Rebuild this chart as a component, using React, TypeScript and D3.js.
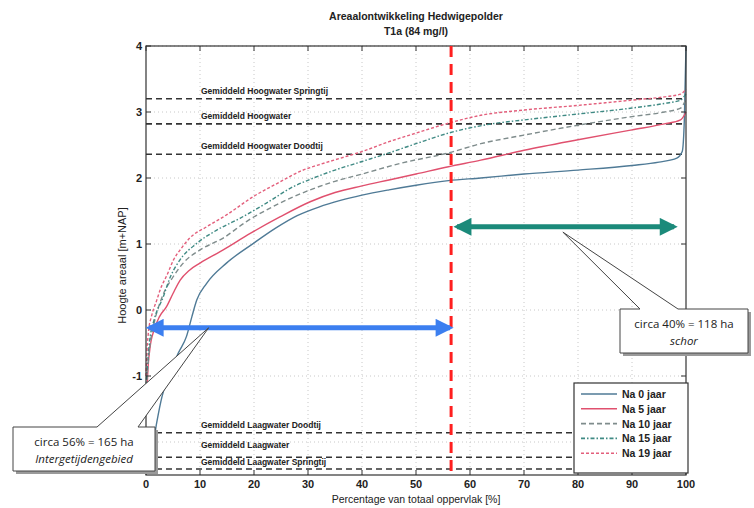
import * as d3 from "d3";
import { useEffect, useRef } from "react";

// percentage of total area vs bed level (m+NAP)
const na0X = [0.2, 1, 2, 3, 4, 5, 6, 7.5, 8.5, 9.4, 11.2, 14.9, 19.9, 24, 28, 32, 36, 40, 45, 50, 56, 62, 70, 80, 90, 95, 98.3, 99.3, 99.7, 100];
const na0Y = [-2.45, -2.2, -1.7, -1.3, -1.05, -0.85, -0.65, -0.4, -0.1, 0.15, 0.4, 0.71, 1.01, 1.24, 1.43, 1.56, 1.66, 1.74, 1.82, 1.89, 1.96, 2.0, 2.06, 2.12, 2.19, 2.24, 2.3, 2.4, 2.9, 4.0];

const na5X = [0.1, 0.3, 0.7, 1.5, 2.5, 3.8, 5, 6.3, 8, 10, 14.3, 19.3, 24.8, 30.4, 35, 40, 45, 50, 56, 62, 70, 80, 90, 96, 99, 100];
const na5Y = [-1.5, -1.0, -0.6, -0.3, -0.1, 0.05, 0.25, 0.45, 0.6, 0.71, 0.91, 1.16, 1.41, 1.64, 1.78, 1.88, 1.97, 2.06, 2.17, 2.27, 2.42, 2.58, 2.73, 2.82, 2.88, 3.0];

const na10X = [0, 0.3, 0.8, 1.5, 3, 5, 7, 10, 14.3, 18.6, 23.6, 30.4, 35, 40, 47, 56, 62, 70, 80, 90, 96, 99, 100];
const na10Y = [-1.3, -0.9, -0.5, -0.2, 0.2, 0.5, 0.72, 0.91, 1.09, 1.34, 1.57, 1.82, 1.95, 2.06, 2.22, 2.38, 2.52, 2.65, 2.8, 2.93, 3.0, 3.06, 3.2];

const na15X = [0, 0.3, 0.7, 1.5, 3.2, 4.5, 6.3, 9.4, 13.1, 17.4, 22.3, 27.3, 30.4, 35, 40, 45, 50, 56, 64, 70, 80, 90, 96, 99, 100];
const na15Y = [-1.2, -0.8, -0.45, -0.15, 0.2, 0.5, 0.76, 1.01, 1.21, 1.39, 1.62, 1.87, 1.98, 2.12, 2.25, 2.38, 2.52, 2.68, 2.82, 2.88, 2.97, 3.06, 3.13, 3.18, 3.28];

const na19X = [0, 0.2, 0.5, 1, 2, 2.6, 4, 5.1, 6.5, 8.1, 11.2, 14.9, 19.9, 24.8, 28.5, 32, 36, 40, 45, 50, 56, 62, 70, 80, 90, 96, 99, 100];
const na19Y = [-1.0, -0.6, -0.3, -0.1, 0.15, 0.3, 0.55, 0.76, 0.93, 1.09, 1.26, 1.44, 1.72, 1.94, 2.1, 2.2, 2.3, 2.4, 2.55, 2.68, 2.83, 2.95, 3.03, 3.1, 3.18, 3.23, 3.27, 3.35];

const seriesNames = ["Na 0 jaar", "Na 5 jaar", "Na 10 jaar", "Na 15 jaar", "Na 19 jaar"];
const seriesX = [na0X, na5X, na10X, na15X, na19X];
const seriesY = [na0Y, na5Y, na10Y, na15Y, na19Y];
const seriesColors = ["#4f7a96", "#e0506e", "#7f8c8c", "#3f8a84", "#e35f7c"];
const seriesDash = [null, null, "5,3", "4,2,1.5,2", "3,2"];

const levelNames = [
	"Gemiddeld Hoogwater Springtij",
	"Gemiddeld Hoogwater",
	"Gemiddeld Hoogwater Doodtij",
	"Gemiddeld Laagwater Doodtij",
	"Gemiddeld Laagwater",
	"Gemiddeld Laagwater Springtij",
];
const levelValues = [3.2, 2.82, 2.36, -1.86, -2.23, -2.41];

const xTicks = [0, 10, 20, 30, 40, 50, 60, 70, 80, 90, 100];
const yTicks = [-2, -1, 0, 1, 2, 3, 4];

const splitX = 56.5;

function App() {
	const ref = useRef(null);

	useEffect(() => {
		const svg = d3.select(ref.current);
		svg.selectAll("*").remove();

		const left = 146, right = 686, top = 46, bottom = 475;
		const x = d3.scaleLinear().domain([0, 100]).range([left, right]);
		const y = d3.scaleLinear().domain([-2.5, 4]).range([bottom, top]);
		const font = "'Liberation Sans', Arial, sans-serif";

		svg.append("rect").attr("width", 754).attr("height", 508).attr("fill", "#fff");

		// grid
		const grid = svg.append("g").attr("stroke", "#c8c8c8").attr("stroke-dasharray", "1,3").attr("stroke-width", 1);
		xTicks.slice(1, -1).forEach(t => grid.append("line").attr("x1", x(t)).attr("x2", x(t)).attr("y1", top).attr("y2", bottom));
		yTicks.forEach(t => grid.append("line").attr("x1", left).attr("x2", right).attr("y1", y(t)).attr("y2", y(t)));

		// reference water levels
		levelValues.forEach(v => {
			svg.append("line").attr("x1", left).attr("x2", right).attr("y1", y(v)).attr("y2", y(v))
				.attr("stroke", "#333").attr("stroke-width", 1.6).attr("stroke-dasharray", "6,4");
		});

		// curves
		const line = d3.line().x(d => x(d[0])).y(d => y(d[1])).curve(d3.curveMonotoneX);
		seriesX.forEach((xs, i) => {
			const datum = xs.map((v, j) => [v, seriesY[i][j]]);
			const p = svg.append("path").datum(datum).attr("fill", "none").attr("stroke", seriesColors[i]).attr("stroke-width", 1.4).attr("d", line);
			if (seriesDash[i]) p.attr("stroke-dasharray", seriesDash[i]);
		});

		// level labels
		const labelOffsets = [-5, -5, -5, -5, -9, -4];
		levelValues.forEach((v, i) => {
			svg.append("text").attr("x", x(10) + 1).attr("y", y(v) + labelOffsets[i]).text(levelNames[i])
				.attr("font-family", font).attr("font-size", 8.5).attr("font-weight", "bold").attr("fill", "#222");
		});

		// axes frame
		svg.append("rect").attr("x", left).attr("y", top).attr("width", right - left).attr("height", bottom - top)
			.attr("fill", "none").attr("stroke", "#333").attr("stroke-width", 1.2);
		xTicks.forEach(t => {
			svg.append("line").attr("x1", x(t)).attr("x2", x(t)).attr("y1", bottom).attr("y2", bottom - 5).attr("stroke", "#333");
			svg.append("line").attr("x1", x(t)).attr("x2", x(t)).attr("y1", top).attr("y2", top + 5).attr("stroke", "#333");
			svg.append("text").attr("x", x(t)).attr("y", bottom + 13).attr("text-anchor", "middle").text(t)
				.attr("font-family", font).attr("font-size", 11).attr("font-weight", "bold").attr("fill", "#222");
		});
		yTicks.forEach(t => {
			svg.append("line").attr("x1", left).attr("x2", left + 5).attr("y1", y(t)).attr("y2", y(t)).attr("stroke", "#333");
			svg.append("line").attr("x1", right).attr("x2", right - 5).attr("y1", y(t)).attr("y2", y(t)).attr("stroke", "#333");
			svg.append("text").attr("x", left - 4).attr("y", y(t) + 4).attr("text-anchor", "end").text(t)
				.attr("font-family", font).attr("font-size", 11).attr("font-weight", "bold").attr("fill", "#222");
		});

		// titles
		svg.append("text").attr("x", (left + right) / 2).attr("y", 20).attr("text-anchor", "middle").text("Areaalontwikkeling Hedwigepolder")
			.attr("font-family", font).attr("font-size", 10.5).attr("font-weight", "bold").attr("fill", "#222");
		svg.append("text").attr("x", (left + right) / 2).attr("y", 35).attr("text-anchor", "middle").text("T1a (84 mg/l)")
			.attr("font-family", font).attr("font-size", 10.5).attr("font-weight", "bold").attr("fill", "#222");
		svg.append("text").attr("x", (left + right) / 2).attr("y", 503).attr("text-anchor", "middle").text("Percentage van totaal oppervlak [%]")
			.attr("font-family", font).attr("font-size", 10.5).attr("fill", "#222");
		svg.append("text").attr("transform", `translate(126,${(top + bottom) / 2 + 5}) rotate(-90)`).attr("text-anchor", "middle").text("Hoogte areaal [m+NAP]")
			.attr("font-family", font).attr("font-size", 11).attr("fill", "#222");

		// split line
		svg.append("line").attr("x1", x(splitX)).attr("x2", x(splitX)).attr("y1", top).attr("y2", bottom)
			.attr("stroke", "#ff1f1f").attr("stroke-width", 3).attr("stroke-dasharray", "11,7");

		// double arrows
		const defs = svg.append("defs");
		const marker = (id, color) => {
			defs.append("marker").attr("id", id).attr("viewBox", "0 0 10 10").attr("refX", 8).attr("refY", 5)
				.attr("markerWidth", 4.4).attr("markerHeight", 3.6).attr("markerUnits", "strokeWidth").attr("orient", "auto-start-reverse")
				.append("path").attr("d", "M0,0 L10,5 L0,10 Z").attr("fill", color);
		};
		marker("blueHead", "#3c7ff0");
		marker("tealHead", "#1b8a7a");
		svg.append("line").attr("x1", x(0.6)).attr("x2", x(56.3)).attr("y1", y(-0.27)).attr("y2", y(-0.27))
			.attr("stroke", "#3c7ff0").attr("stroke-width", 5).attr("marker-start", "url(#blueHead)").attr("marker-end", "url(#blueHead)");
		svg.append("line").attr("x1", x(57.6)).attr("x2", x(97.8)).attr("y1", y(1.26)).attr("y2", y(1.26))
			.attr("stroke", "#1b8a7a").attr("stroke-width", 5).attr("marker-start", "url(#tealHead)").attr("marker-end", "url(#tealHead)");

		// callouts
		const callout = (bx, by, bw, bh, ax, ay, p1, p2, l1, l2) => {
			const g = svg.append("g");
			g.append("path").attr("d", `M${bx + 3},${by + 3}h${bw}v${bh}h${-bw}Z`).attr("fill", "#9a9a9a");
			g.append("path").attr("d", `M${bx},${by}H${p1}L${ax},${ay}L${p2},${by}H${bx + bw}V${by + bh}H${bx}Z`)
				.attr("fill", "#fff").attr("stroke", "#444").attr("stroke-width", 1);
			g.append("text").attr("x", bx + bw / 2).attr("y", by + 19).attr("text-anchor", "middle").text(l1)
				.attr("font-family", "'Open Sans', sans-serif").attr("font-size", 11.5).attr("fill", "#222");
			g.append("text").attr("x", bx + bw / 2).attr("y", by + 36).attr("text-anchor", "middle").text(l2)
				.attr("font-family", "'Open Sans', sans-serif").attr("font-size", 11.5).attr("font-style", "italic").attr("fill", "#222");
		};
		callout(620, 309, 128, 44, x(77.2), y(1.18), 640, 678, "circa 40%  = 118 ha", "schor");
		callout(13, 427, 142, 44, x(11.6), y(-0.27), 97, 138, "circa 56%  = 165 ha", "Intergetijdengebied");

		// legend
		const lg = svg.append("g");
		lg.append("rect").attr("x", 574).attr("y", 383).attr("width", 114).attr("height", 90)
			.attr("fill", "#fff").attr("stroke", "#333").attr("stroke-width", 1.2);
		seriesNames.forEach((n, i) => {
			const ly = 394 + i * 14.8;
			const l = lg.append("line").attr("x1", 581).attr("x2", 617).attr("y1", ly).attr("y2", ly)
				.attr("stroke", seriesColors[i]).attr("stroke-width", 1.6);
			if (seriesDash[i]) l.attr("stroke-dasharray", seriesDash[i]);
			lg.append("text").attr("x", 622).attr("y", ly + 4).text(n)
				.attr("font-family", font).attr("font-size", 10.5).attr("font-weight", "bold").attr("fill", "#222");
		});
	}, []);

	return <svg ref={ref} width={754} height={508} style={{ position: "absolute", left: 0, top: 0 }}></svg>;
}

export default App;
